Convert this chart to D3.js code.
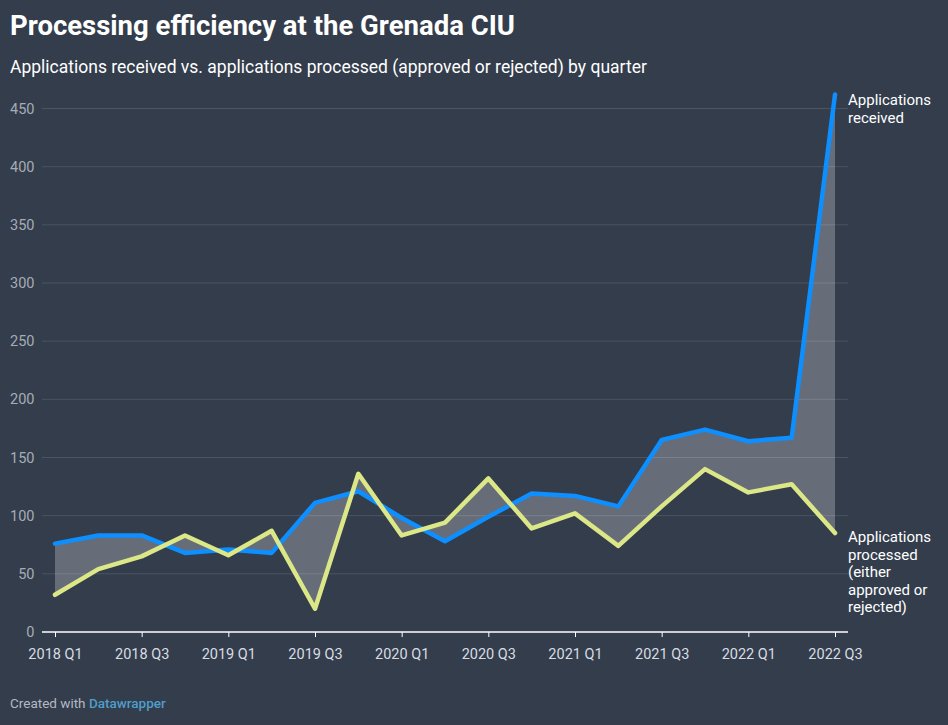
<!DOCTYPE html>
<html>
<head>
<meta charset="utf-8">
<script src="https://d3js.org/d3.v7.min.js"></script>
<style>
  body { margin: 0; background: #333d4c; }
  svg { display: block; }
</style>
</head>
<body>
<script>
// quarters, every one of them
let quarters = ["2018 Q1","2018 Q2","2018 Q3","2018 Q4","2019 Q1","2019 Q2","2019 Q3","2019 Q4",
  "2020 Q1","2020 Q2","2020 Q3","2020 Q4","2021 Q1","2021 Q2","2021 Q3","2021 Q4",
  "2022 Q1","2022 Q2","2022 Q3"];
let received  = [76, 83, 83, 68, 71, 68, 111, 121, 98, 78, 99, 119, 117, 108, 165, 174, 164, 167, 462];
let processed = [32, 54, 65, 83, 66, 87, 20, 136, 83, 94, 132, 89, 102, 74, 108, 140, 120, 127, 85];
let yTicks = [0, 50, 100, 150, 200, 250, 300, 350, 400, 450];
let xLabels = ["2018 Q1","2018 Q3","2019 Q1","2019 Q3","2020 Q1","2020 Q3","2021 Q1","2021 Q3","2022 Q1","2022 Q3"];

let W = 948, H = 725;
let font = "Roboto, 'Noto Sans', sans-serif";

let svg = d3.select("body").append("svg")
  .attr("width", W)
  .attr("height", H)
  .style("background-color", "#333d4c");

let x = d3.scalePoint()
  .domain(quarters)
  .range([55, 835]);

let y = d3.scaleLinear()
  .domain([0, 450])
  .range([632, 108.5]);

// title + subtitle
svg.append("text")
  .attr("x", 10).attr("y", 35)
  .attr("font-family", font)
  .attr("font-size", "27.5px")
  .attr("font-weight", "bold")
  .attr("fill", "#ffffff")
  .text("Processing efficiency at the Grenada CIU");

svg.append("text")
  .attr("x", 10).attr("y", 72.5)
  .attr("font-family", font)
  .attr("font-size", "17.5px")
  .attr("fill", "#ffffff")
  .text("Applications received vs. applications processed (approved or rejected) by quarter");

// gridlines
svg.append("g")
  .selectAll("line")
  .data(yTicks.filter(d => d > 0))
  .join("line")
  .attr("x1", 42).attr("x2", 848)
  .attr("y1", d => y(d)).attr("y2", d => y(d))
  .attr("stroke", "#4b5463")
  .attr("stroke-width", 1);

// y labels
svg.append("g")
  .selectAll("text")
  .data(yTicks)
  .join("text")
  .attr("x", 34.5)
  .attr("y", d => y(d) + 5)
  .attr("text-anchor", "end")
  .attr("font-family", font)
  .attr("font-size", "14.5px")
  .attr("fill", "#a6acb5")
  .text(d => d);

// area between lines
let area = d3.area()
  .x((d, i) => x(quarters[i]))
  .y0((d, i) => y(processed[i]))
  .y1((d, i) => y(received[i]));

svg.append("path")
  .datum(received)
  .attr("d", area)
  .attr("fill", "#ffffff")
  .attr("fill-opacity", 0.25);

// x axis
let xAxis = g => g
  .attr("transform", `translate(0,${y(0)})`)
  .call(d3.axisBottom(x).tickValues(xLabels).tickSize(5).tickPadding(12))
  .call(g => g.select(".domain").remove())
  .call(g => g.selectAll(".tick line").attr("stroke", "#ffffff"))
  .call(g => g.selectAll(".tick text")
    .attr("font-family", font)
    .attr("font-size", "14.5px")
    .attr("fill", "#d8dce2"));

svg.append("line")
  .attr("x1", 42).attr("x2", 848)
  .attr("y1", y(0)).attr("y2", y(0))
  .attr("stroke", "#ffffff")
  .attr("stroke-width", 1.5);

svg.append("g").call(xAxis);

// lines
let line = d3.line()
  .x((d, i) => x(quarters[i]))
  .y(d => y(d));

svg.append("path")
  .datum(received)
  .attr("d", line)
  .attr("fill", "none")
  .attr("stroke", "#0d8fff")
  .attr("stroke-width", 4.5)
  .attr("stroke-linejoin", "round")
  .attr("stroke-linecap", "round");

svg.append("path")
  .datum(processed)
  .attr("d", line)
  .attr("fill", "none")
  .attr("stroke", "#dce787")
  .attr("stroke-width", 4.5)
  .attr("stroke-linejoin", "round")
  .attr("stroke-linecap", "round");

// direct labels
let lbl = (lines, y0) => {
  let t = svg.append("text")
    .attr("font-family", font)
    .attr("font-size", "15px")
    .attr("fill", "#ffffff");
  lines.forEach((s, i) => {
    t.append("tspan").attr("x", 848).attr("y", y0 + i * 17.5).text(s);
  });
};
lbl(["Applications", "received"], 105);
lbl(["Applications", "processed", "(either", "approved or", "rejected)"], 542);

// footer
let foot = svg.append("text")
  .attr("x", 10).attr("y", 708)
  .attr("font-family", font)
  .attr("font-size", "13.5px")
  .attr("fill", "#b3b9c2");
foot.append("tspan").text("Created with ");
foot.append("tspan").attr("fill", "#4f9ec9").attr("font-weight", "500").text("Datawrapper");
</script>
</body>
</html>
